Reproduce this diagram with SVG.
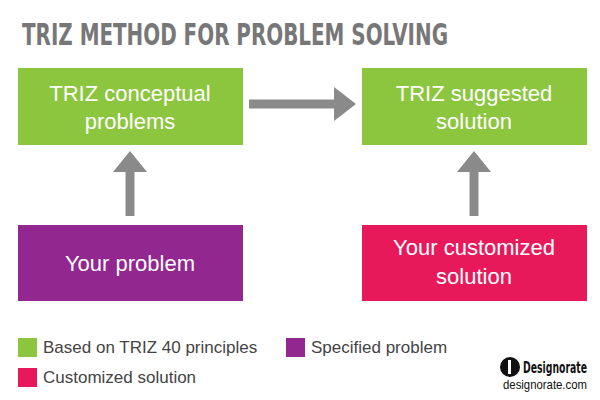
<svg xmlns="http://www.w3.org/2000/svg" width="600" height="400" viewBox="0 0 600 400">
<style>
.t{font-family:"Liberation Sans",Arial,sans-serif;font-size:22px;fill:#fff;text-anchor:middle}
.l{font-family:"Liberation Sans",Arial,sans-serif;font-size:17px;fill:#444}
.g{fill:#8cc63f}.p{fill:#92278f}.k{fill:#e8195b}
.a{stroke:#8a8a8a;stroke-width:9;fill:none}
.h{fill:#8a8a8a}
</style>
<rect width="600" height="400" fill="#fff"/>
<text x="22" y="45" font-family="'DejaVu Sans Condensed','Liberation Sans Narrow',sans-serif" font-weight="bold" font-size="31" fill="#777" textLength="426" lengthAdjust="spacingAndGlyphs">TRIZ METHOD FOR PROBLEM SOLVING</text>
<g id="n1"><rect class="g" x="18" y="68" width="225" height="77"/><text class="t" x="130" y="101">TRIZ conceptual</text><text class="t" x="130" y="129">problems</text></g>
<g id="n2"><rect class="g" x="362" y="68" width="225" height="77"/><text class="t" x="474" y="101">TRIZ suggested</text><text class="t" x="474" y="129">solution</text></g>
<g id="n3"><rect class="p" x="18" y="225" width="225" height="76"/><text class="t" x="130" y="271">Your problem</text></g>
<g id="n4"><rect class="k" x="362" y="225" width="225" height="76"/><text class="t" x="474" y="255">Your customized</text><text class="t" x="474" y="284">solution</text></g>
<g id="connectors">
<line class="a" x1="130" y1="216" x2="130" y2="170"/><polygon class="h" points="113,172 147,172 130,151"/>
<line class="a" x1="474" y1="216" x2="474" y2="170"/><polygon class="h" points="457,172 491,172 474,151"/>
<line class="a" x1="249" y1="104" x2="336" y2="104"/><polygon class="h" points="334,87 334,121 356,104"/>
</g>
<g id="legend">
<rect class="g" x="18" y="338" width="19" height="19"/><text class="l" x="43" y="353">Based on TRIZ 40 principles</text>
<rect class="p" x="286" y="338" width="19" height="19"/><text class="l" x="311" y="353">Specified problem</text>
<rect class="k" x="18" y="368" width="19" height="19"/><text class="l" x="43" y="383">Customized solution</text>
</g>
<g id="logo">
<circle cx="510" cy="367" r="10" fill="#111"/><rect x="508" y="360" width="3" height="14" fill="#fff"/>
<text x="523" y="373" font-family="'DejaVu Sans Condensed',sans-serif" font-weight="bold" font-size="15" fill="#111" textLength="64" lengthAdjust="spacingAndGlyphs">Designorate</text>
<text x="503" y="389" font-family="'Liberation Sans',sans-serif" font-size="13" fill="#111" textLength="84" lengthAdjust="spacingAndGlyphs">designorate.com</text>
</g>
</svg>
